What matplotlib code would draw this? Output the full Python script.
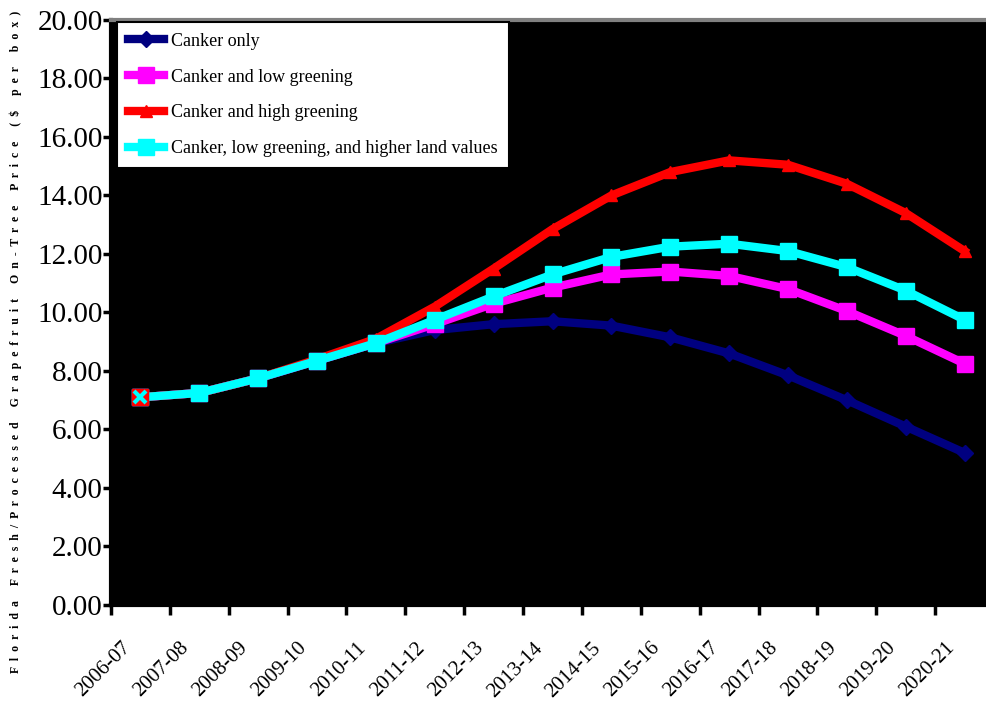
import numpy as np
import matplotlib.pyplot as plt
from matplotlib.transforms import ScaledTranslation

plt.rcParams['font.family'] = ['Liberation Serif', 'DejaVu Serif']

seasons = ['2006-07', '2007-08', '2008-09', '2009-10', '2010-11', '2011-12', '2012-13',
           '2013-14', '2014-15', '2015-16', '2016-17', '2017-18', '2018-19', '2019-20', '2020-21']

canker_only = [7.10, 7.25, 7.75, 8.35, 8.95, 9.40, 9.60, 9.70, 9.55, 9.15, 8.60, 7.85, 7.00, 6.10, 5.20]
low_greening = [7.10, 7.25, 7.75, 8.35, 8.95, 9.60, 10.30, 10.85, 11.30, 11.40, 11.25, 10.80, 10.05, 9.20, 8.25]
high_greening = [7.10, 7.25, 7.75, 8.40, 9.10, 10.20, 11.50, 12.85, 14.00, 14.80, 15.20, 15.05, 14.40, 13.40, 12.10]
low_green_land = [7.10, 7.25, 7.75, 8.35, 8.95, 9.75, 10.55, 11.30, 11.90, 12.25, 12.35, 12.10, 11.55, 10.75, 9.75]

series = [
    ('Canker only', canker_only, '#000080', 'D', 8),
    ('Canker and low greening', low_greening, '#ff00ff', 's', 11),
    ('Canker and high greening', high_greening, '#ff0000', '^', 9),
    ('Canker, low greening, and higher land values', low_green_land, '#00ffff', 's', 12),
]

# spaced-out axis title
ylabel = '     '.join('  '.join(w) for w in
                      'Florida Fresh/Processed Grapefruit On-Tree Price ($ per box)'.split(' '))

fig = plt.figure(figsize=(9.87, 7.08), dpi=100)
ax = fig.add_axes([0.1125, 0.1455, 0.8946, 0.8263])
ax.set_facecolor('black')

x = np.arange(len(seasons))
for name, vals, col, mk, ms in series:
    ax.plot(x, vals, color=col, lw=6, marker=mk, ms=ms, mec=col, mfc=col, label=name,
            solid_joinstyle='round')

# start point: red box with a cyan cross
ax.plot(x[0], low_green_land[0], marker='s', ms=12, mfc='#ff0000', mec='#ff0000')
ax.plot(x[0], low_green_land[0], marker='x', ms=8, mec='#00ffff', mew=3)

ax.set_xlim(-0.5, len(seasons) - 0.5)
ax.set_ylim(0, 20)
yt = np.arange(0, 20.01, 2)
ax.set_yticks(yt)
ax.set_yticklabels(['%.2f' % v for v in yt], fontsize=21)

ax.set_xticks(np.arange(-0.5, len(seasons), 1))
ax.set_xticklabels([])
ax.set_xticks(x, minor=True)
ax.tick_params(axis='x', which='minor', length=0, pad=29)
ax.tick_params(axis='x', which='major', direction='out', length=7, width=2.5)
ax.tick_params(axis='y', direction='out', length=6, width=2.5, pad=0)
ax.set_xticklabels(seasons, minor=True, rotation=45, ha='right', va='center',
                   rotation_mode='anchor', fontsize=15)
# nudge the slanted season labels left of their tick
shift = ScaledTranslation(-13 / 100, 0, fig.dpi_scale_trans)
for lab in ax.get_xticklabels(minor=True):
    lab.set_transform(lab.get_transform() + shift)

ax.spines['left'].set_linewidth(3)
ax.spines['bottom'].set_linewidth(3)
ax.spines['top'].set_color('#808080')
ax.spines['top'].set_linewidth(3)
ax.spines['right'].set_visible(False)

ax.set_ylabel(ylabel, fontsize=8.5, fontweight='bold')
ax.yaxis.set_label_coords(-0.101, 0.45)

leg = ax.legend(loc='upper left', bbox_to_anchor=(0.007, 0.997), fontsize=13,
                frameon=True, fancybox=False, framealpha=1, edgecolor='black',
                handlelength=2.0, labelspacing=1.05, borderpad=0.6, handletextpad=0.4,
                borderaxespad=0)
leg.get_frame().set_linewidth(1.5)

fig.savefig('out.png', dpi=100)
